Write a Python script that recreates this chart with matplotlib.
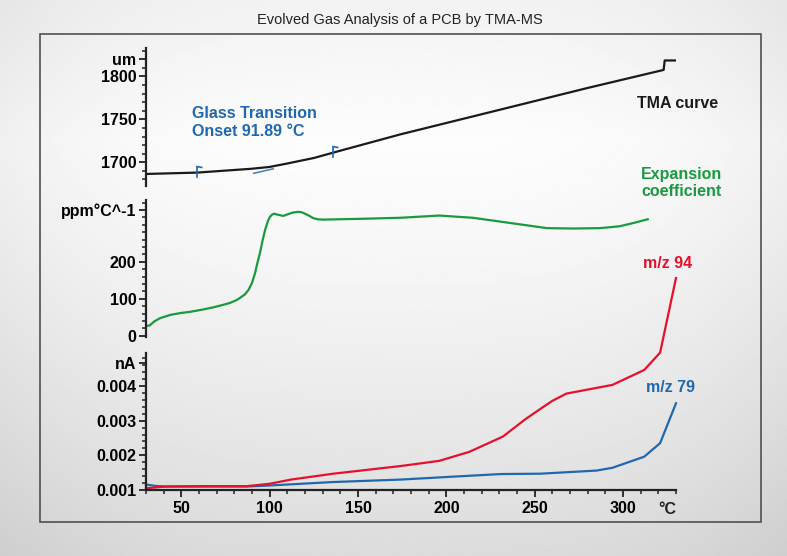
import numpy as np
import matplotlib
matplotlib.use("Agg")
import matplotlib.pyplot as plt
from matplotlib.ticker import MultipleLocator, FixedLocator
from matplotlib.patches import Rectangle

plt.rcParams['font.family'] = ['Liberation Sans', 'DejaVu Sans']

# TMA curve (length, um)
tma_temp = [30, 59, 90, 100, 110, 125, 140, 174, 230, 280, 323, 323.6, 330]
tma_len = [1686.4, 1688, 1692.5, 1694.6, 1698.6, 1705, 1713.5, 1732.5,
           1761, 1786.5, 1807.5, 1818.5, 1818.5]

# Tangent marks of the onset evaluation
onset_marks = [59, 136]
tangent_temp = [91, 102]

# Expansion coefficient (ppm/K)
cte_temp = [30, 32, 35, 38, 44, 50, 55, 62, 68, 73, 77.5, 81, 83, 86, 88,
            90, 91.7, 93, 94.5, 96, 97.4, 99, 100.2, 101.5, 102.5, 104,
            107.7, 110, 113, 116.2, 118, 120, 122.5, 124.7, 127, 130.4, 140,
            150, 174, 196, 215, 230, 245, 257, 272, 287, 298, 306, 310, 314]
cte_val = [27, 28, 40, 48, 57, 62, 65, 71, 77, 83, 89, 96, 102, 112, 124,
           143, 169, 196, 224, 258, 286, 310, 322, 328, 330, 328,
           324, 328, 333, 335, 334, 330, 324, 318, 315, 314, 315,
           316, 319, 325, 319, 309, 299, 291, 290, 291, 296, 305, 310, 315]

# MS ion currents (nA)
ms_temp_94 = [30, 41, 60, 87, 100, 112, 136, 174, 196, 213, 232, 245, 255,
              260, 268, 294, 312, 321, 330]
ms_94 = [0.00105, 0.00110, 0.00111, 0.00111, 0.00118, 0.00130, 0.00147,
         0.00169, 0.00184, 0.00210, 0.00254, 0.00305, 0.00340, 0.00357,
         0.00378, 0.00403, 0.00446, 0.00496, 0.00711]
ms_temp_79 = [30, 35, 41, 87, 100, 136, 174, 202, 231, 253, 285, 294, 312,
              321, 330]
ms_79 = [0.00116, 0.00112, 0.00110, 0.00110, 0.00113, 0.00123, 0.00130,
         0.00138, 0.00146, 0.00147, 0.00156, 0.00164, 0.00196, 0.00235,
         0.0035]

W, H = 787, 556
fig = plt.figure(figsize=(W / 100, H / 100), dpi=100)


def fx(px):
    return px / W


def fy(py):
    return 1 - py / H


# soft grey backdrop
bg = fig.add_axes([0, 0, 1, 1])
yy, xx = np.mgrid[0:1:300j, 0:1:300j]
shade = 0.99 - 0.13 * np.clip((yy - 0.25) / 0.75, 0, 1) ** 1.3
shade -= 0.04 * np.clip(0.25 - yy, 0, 1) / 0.25
shade -= 0.05 * np.abs(xx - 0.5) ** 3 * 8
bg.imshow(shade, cmap='gray', vmin=0, vmax=1, extent=[0, 1, 0, 1],
          aspect='auto', origin='upper')
bg.set_axis_off()
fig.patches.append(Rectangle((fx(40), fy(522)), fx(761) - fx(40),
                             fy(34) - fy(522), transform=fig.transFigure,
                             fill=False, edgecolor='#505050', lw=1.2))

fig.text(fx(400), fy(20), 'Evolved Gas Analysis of a PCB by TMA-MS',
         ha='center', va='center', fontsize=10.5, color='#222222')

left, width = fx(146), 530 / W
ax1 = fig.add_axes([left, fy(186), width, 138 / H])
ax2 = fig.add_axes([left, fy(337), width, 137 / H])
ax3 = fig.add_axes([left, fy(490), width, 137 / H])

spine_c = '#222222'
for ax in (ax1, ax2, ax3):
    ax.set_facecolor('none')
    ax.set_xlim(30, 330)
    for s in ('top', 'right', 'bottom'):
        ax.spines[s].set_visible(False)
    ax.spines['left'].set_color(spine_c)
    ax.spines['left'].set_linewidth(1.6)
    ax.tick_params(axis='y', which='major', length=5, width=1.3,
                   color=spine_c, pad=2, labelsize=11.5)
    ax.tick_params(axis='y', which='minor', length=3, width=1.1,
                   color=spine_c)
    ax.tick_params(axis='x', which='both', bottom=False, labelbottom=False)

ax3.spines['bottom'].set_visible(True)
ax3.spines['bottom'].set_color(spine_c)
ax3.spines['bottom'].set_linewidth(1.6)
ax3.xaxis.set_major_locator(FixedLocator([50, 100, 150, 200, 250, 300]))
ax3.xaxis.set_minor_locator(MultipleLocator(10))
ax3.tick_params(axis='x', which='major', bottom=True, labelbottom=True,
                length=5, width=1.3, color=spine_c, pad=3, labelsize=11.5)
ax3.tick_params(axis='x', which='minor', bottom=True, length=3, width=1.1,
                color=spine_c)

# TMA panel
ax1.set_ylim(1672.4, 1833)
ax1.set_yticks([1700, 1750, 1800, 1820])
ax1.set_yticklabels(['1700', '1750', '1800', 'um'], fontweight='bold')
ax1.yaxis.set_minor_locator(MultipleLocator(10))
ax1.plot(tma_temp, tma_len, color='#1a1a1a', lw=1.6)
blue = '#1f68ad'
for t in onset_marks:
    yv = np.interp(t, tma_temp, tma_len)
    ax1.plot([t, t], [yv - 5, yv + 7], color=blue, lw=1.2)
    ax1.plot([t, t + 2.5], [yv + 7, yv + 6], color=blue, lw=1.2)
tan_y = np.interp(tangent_temp, tma_temp, tma_len) - np.array([5.5, 3.0])
ax1.plot(tangent_temp, tan_y, color=blue, lw=1.2, alpha=0.8)

# expansion coefficient panel
ax2.set_ylim(-3, 367)
ax2.set_yticks([0, 100, 200, 340])
ax2.set_yticklabels(['0', '100', '200', 'ppm°C^-1'], fontweight='bold')
ax2.yaxis.set_minor_locator(MultipleLocator(20))
ax2.plot(cte_temp, cte_val, color='#1a9a3e', lw=1.6)

# MS panel
ax3.set_ylim(0.001, 0.00495)
ax3.set_yticks([0.001, 0.002, 0.003, 0.004, 0.00466])
ax3.set_yticklabels(['0.001', '0.002', '0.003', '0.004', 'nA'],
                    fontweight='bold')
ax3.yaxis.set_minor_locator(MultipleLocator(0.0002))
ax3.set_xticklabels(['50', '100', '150', '200', '250', '300'],
                    fontweight='bold')
ax3.plot(ms_temp_79, ms_79, color=blue, lw=1.6, clip_on=False)
ax3.plot(ms_temp_94, ms_94, color='#e3112c', lw=1.6, clip_on=False)

fig.text(fx(667), fy(510), '°C', ha='center', va='center', fontsize=11.5,
         fontweight='bold', color='#222222')

# curve annotations
fig.text(fx(192), fy(113), 'Glass Transition', ha='left', va='center',
         fontsize=11.5, fontweight='bold', color=blue)
fig.text(fx(192), fy(132), 'Onset 91.89 °C', ha='left', va='center',
         fontsize=11.5, fontweight='bold', color=blue)
fig.text(fx(637), fy(104), 'TMA curve', ha='left', va='center',
         fontsize=11.5, fontweight='bold', color='#1a1a1a')
fig.text(fx(681), fy(174), 'Expansion', ha='center', va='center',
         fontsize=11.5, fontweight='bold', color='#1a9a3e')
fig.text(fx(681), fy(191), 'coefficient', ha='center', va='center',
         fontsize=11.5, fontweight='bold', color='#1a9a3e')
fig.text(fx(668), fy(264), 'm/z 94', ha='center', va='center',
         fontsize=11.5, fontweight='bold', color='#e3112c')
fig.text(fx(671), fy(388), 'm/z 79', ha='center', va='center',
         fontsize=11.5, fontweight='bold', color=blue)

fig.savefig('out.png', dpi=100)
